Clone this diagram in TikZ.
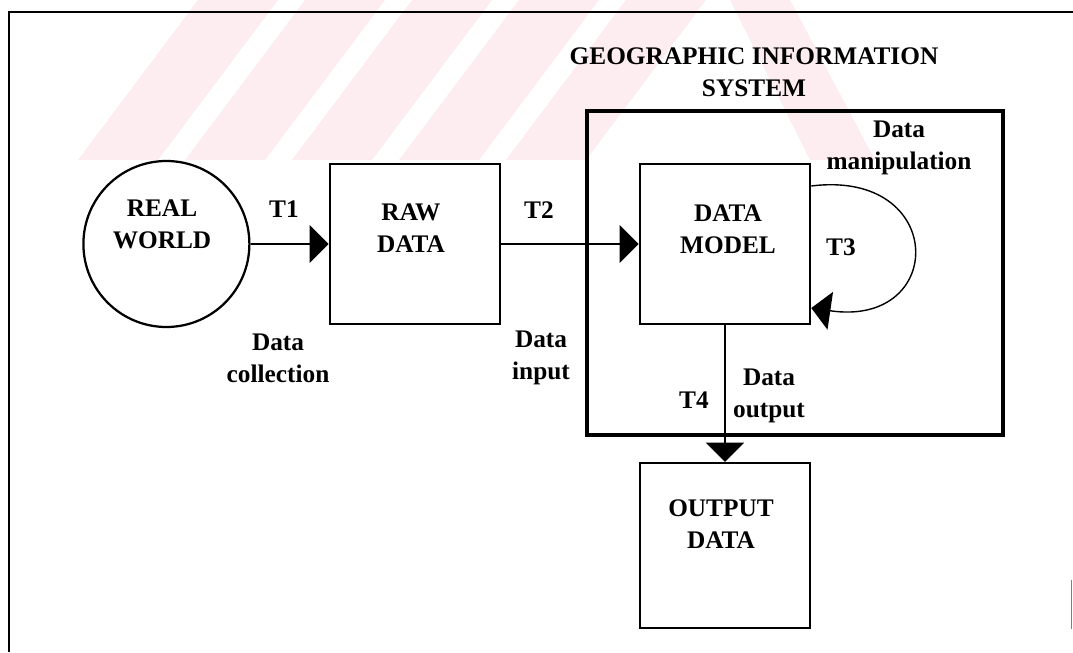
\documentclass[tikz,border=0pt]{standalone}
\usepackage{fontspec}
\setmainfont{Liberation Serif}
\usetikzlibrary{arrows.meta}
\definecolor{wmpink}{RGB}{253,236,240}

\begin{document}
\begin{tikzpicture}[
    >={Triangle[length=0.48cm, width=0.95cm]},
    box/.style={draw, line width=1.8pt, minimum width=4.25cm,
                minimum height=4cm, inner sep=0pt},
    lbl/.style={font=\fontsize{18}{22.8}\selectfont\bfseries, align=center},
    conn/.style={->, line width=1pt}
  ]
  \useasboundingbox (0,0) rectangle (26.825,16.3);

  % watermark stripes
  \fill[wmpink] (1.95,12.3) -- (3.95,12.3) -- (6.95,16.3) -- (4.95,16.3) -- cycle;
  \fill[wmpink] (4.625,12.3) -- (6.625,12.3) -- (9.625,16.3) -- (7.625,16.3) -- cycle;
  \fill[wmpink] (7.3,12.3) -- (9.3,12.3) -- (12.3,16.3) -- (10.3,16.3) -- cycle;
  \fill[wmpink] (9.975,12.3) -- (11.975,12.3) -- (14.975,16.3) -- (12.975,16.3) -- cycle;
  \fill[wmpink] (12.65,12.3) -- (14.65,12.3) -- (17.65,16.3) -- (15.65,16.3) -- cycle;
  \fill[wmpink] (18.25,16.3) -- (19.75,16.3) -- (21.875,12.3) -- (20.25,12.3) -- cycle;

  % frame
  \draw[line width=1.2pt] (0.225,0) -- (0.225,16.0) -- (26.825,16.0);
  \draw[gray, line width=0.6pt] (26.78,1.8) -- (26.78,0.575);

  % GIS
  \node[lbl] (title) at (18.85,14.5) {GEOGRAPHIC INFORMATION\\SYSTEM};
  \node[draw, line width=3pt, minimum width=10.4cm, minimum height=8.1cm] (gis) at (19.875,9.475) {};

  % main row
  \node[draw, circle, line width=1.6pt, minimum size=4.15cm] (rw) at (4.16,10.2) {};
  \node[lbl] (rwtxt) at (4.05,10.7) {REAL\\WORLD};
  \node[box] (raw) at (10.375,10.2) {};
  \node[lbl] (rawtxt) at (10.275,10.6) {RAW\\DATA};
  \node[box] (dm) at (18.125,10.2) {};
  \node[lbl] (dmtxt) at (18.2,10.575) {DATA\\MODEL};

  % output
  \node[box, minimum height=4.125cm] (out) at (18.125,2.66) {};
  \node[lbl] (outtxt) at (18.025,3.2) {OUTPUT\\DATA};

  % transformations
  \node[lbl] (t1) at (7.1,11.075) {T1};
  \node[lbl] (t2) at (13.475,11.05) {T2};
  \node[lbl] (t3) at (21.025,10.125) {T3};
  \node[lbl] (t4) at (17.35,6.3) {T4};
  \node[lbl] (dcoll) at (6.95,7.35) {Data\\collection};
  \node[lbl] (dinp) at (13.525,7.35) {Data\\input};
  \node[lbl] (dout) at (19.225,6.4) {Data\\output};
  \node[lbl] (dman) at (22.475,12.6) {Data\\manipulation};

  \draw[conn] (rw) -- (raw);
  \draw[conn] (raw) -- (dm);
  \draw[conn] (dm) -- (out);
  \draw[conn] ([yshift=1.45cm]dm.east) .. controls +(3.4,0.425) and +(3.4,-0.5) .. ([yshift=-1.6cm]dm.east);
\end{tikzpicture}
\end{document}
